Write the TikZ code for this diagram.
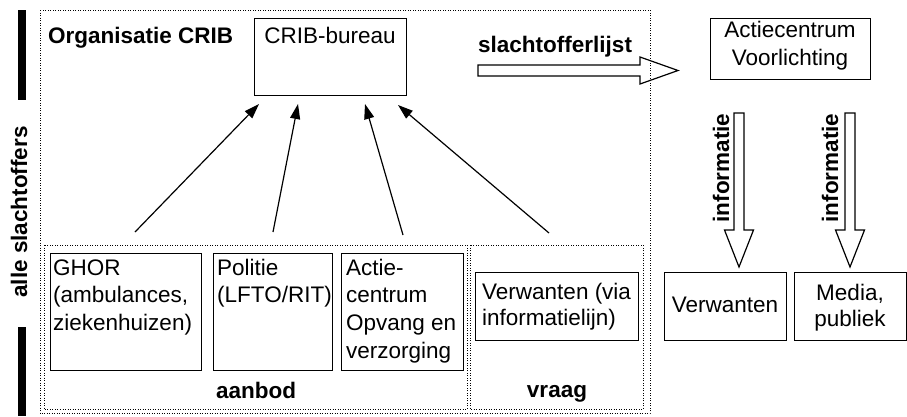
\documentclass[tikz,border=0pt]{standalone}
\usepackage{fontspec}
\setmainfont{Liberation Sans}
\usetikzlibrary{arrows.meta}
\begin{document}
\begin{tikzpicture}[x=1pt,y=-1pt,
  box/.style={draw, line width=1.2pt, inner sep=0pt, anchor=north west},
  txt/.style={inner sep=0pt, font=\fontsize{22.5}{27.7}\selectfont},
  tighttxt/.style={inner sep=0pt, font=\fontsize{22.5}{26.5}\selectfont},
  btxt/.style={inner sep=0pt, font=\fontsize{22.5}{27.7}\selectfont\bfseries},
  dotbox/.style={line width=0.9pt, dash pattern=on 0.9pt off 1.6pt},
  flow/.style={line width=1.2pt, -{Triangle[length=15pt,width=10pt]}},
  blockarrow/.style={line width=1.2pt, line join=miter}
]
\useasboundingbox (0,0) rectangle (907,416);

% black bars
\fill (18,10) rectangle (26,100);
\fill (18,327) rectangle (26,416);
\node[btxt, rotate=90] (alle) at (19,212) {alle slachtoffers};

% dotted containers
\draw[dotbox] (40,10) rectangle (650,413);
\draw[dotbox] (44,245) rectangle (467,409);
\draw[dotbox] (470,245) rectangle (643,409);

% boxes
\node[box, minimum width=152pt, minimum height=77pt] (crib) at (254,18) {};
\node[box, minimum width=160pt, minimum height=61pt] (av) at (710,18) {};
\node[box, minimum width=151pt, minimum height=117pt] (ghor) at (50,253) {};
\node[box, minimum width=119pt, minimum height=117pt] (pol) at (213,253) {};
\node[box, minimum width=122pt, minimum height=117pt] (aco) at (341,253) {};
\node[box, minimum width=163pt, minimum height=68pt] (verv) at (475,272) {};
\node[box, minimum width=122pt, minimum height=68pt] (ver) at (664,272) {};
\node[box, minimum width=112pt, minimum height=68pt] (med) at (794,272) {};

% texts (multi-line nodes: base anchor = baseline of last line)
\node[btxt, anchor=base west] (org) at (48,43) {Organisatie CRIB};
\node[txt, anchor=base] (cribt) at (330,43) {CRIB-bureau};
\node[btxt, anchor=base west] (sl) at (478,52) {slachtofferlijst};
\node[txt, align=center, anchor=base] (avt) at (790,65.5) {Actiecentrum\\Voorlichting};
\node[txt, align=left, anchor=base west] (ghort) at (53,330.4) {GHOR\\(ambulances,\\ziekenhuizen)};
\node[txt, align=left, anchor=base west] (polt) at (217,302.7) {Politie\\(LFTO/RIT)};
\node[txt, align=left, anchor=base west] (acot) at (346,358.1) {Actie-\\centrum\\Opvang en\\verzorging};
\node[tighttxt, align=left, anchor=base west] (vervt) at (482,325.5) {Verwanten (via\\informatielijn)};
\node[txt, anchor=base] (vert) at (725,312) {Verwanten};
\node[tighttxt, align=center, anchor=base] (medt) at (850,326.5) {Media,\\publiek};
\node[btxt, anchor=base] (aanbod) at (256,398) {aanbod};
\node[btxt, anchor=base] (vraag) at (557,397) {vraag};
\node[btxt, rotate=90] (inf1) at (721,168) {informatie};
\node[btxt, rotate=90] (inf2) at (830,168) {informatie};

% flow arrows into CRIB-bureau
\coordinate (a1s) at (135,232); \coordinate (a1e) at (259,104);
\coordinate (a2s) at (273,232); \coordinate (a2e) at (298,104);
\coordinate (a3s) at (403,235); \coordinate (a3e) at (365,104);
\coordinate (a4s) at (549,233); \coordinate (a4e) at (398,105);
\draw[flow] (a1s) -- (a1e);
\draw[flow] (a2s) -- (a2e);
\draw[flow] (a3s) -- (a3e);
\draw[flow] (a4s) -- (a4e);

% block arrows
\draw[blockarrow] (478,65) -- (640,65) -- (640,57) -- (678,70.5) -- (640,84) -- (640,76) -- (478,76) -- cycle;
\draw[blockarrow, fill=white] (734,113) -- (744,113) -- (744,230) -- (753.5,230) -- (739,267) -- (724.5,230) -- (734,230) -- cycle;
\draw[blockarrow, fill=white] (845,113) -- (855,113) -- (855,230) -- (864.5,230) -- (850,267) -- (835.5,230) -- (845,230) -- cycle;
\end{tikzpicture}
\end{document}
